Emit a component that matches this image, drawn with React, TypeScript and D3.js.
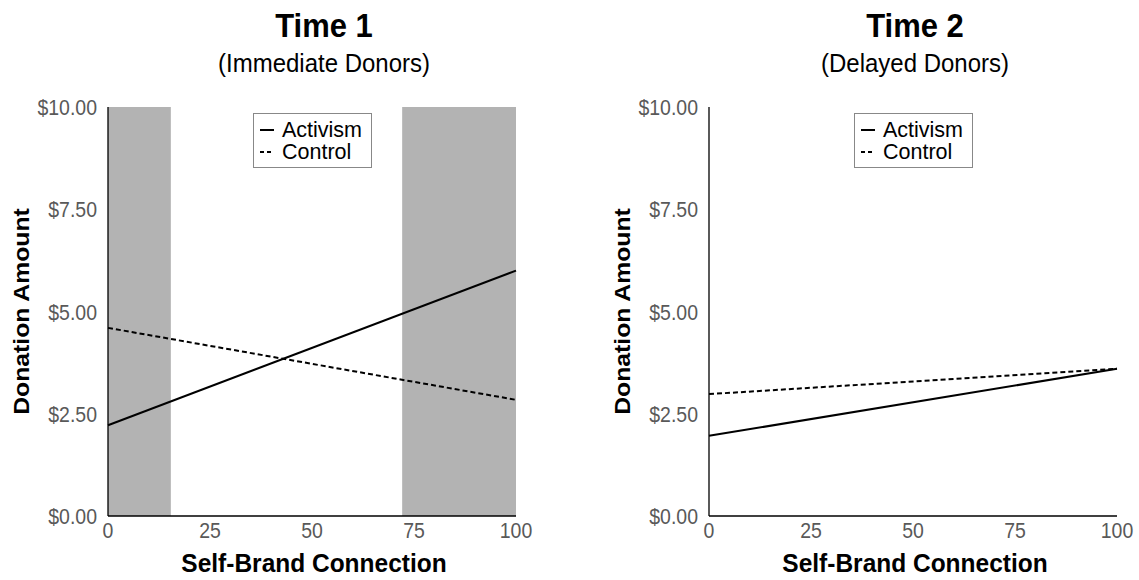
import React from "react";
import * as d3 from "d3";

const panelTitles = ["Time 1", "Time 2"];
const panelSubtitles = ["(Immediate Donors)", "(Delayed Donors)"];
const xTicks = [0, 25, 50, 75, 100];
const yTicks = [0, 2.5, 5, 7.5, 10];
const seriesNames = ["Activism", "Control"];
// donation at self-brand connection 0 and 100, per panel
const activismT1 = [2.22, 6.0];
const controlT1 = [4.6, 2.84];
const activismT2 = [1.96, 3.6];
const controlT2 = [2.98, 3.6];
// regions of significance along the x axis (time 1 only)
const shadedT1: [number, number][] = [[0, 15.4], [72.1, 100]];
const shadedT2: [number, number][] = [];

const W = 1139;
const H = 580;
const FONT = "Liberation Sans, Arial, sans-serif";
const SY = 1.1; // glyphs are slightly taller than wide

type TProps = {
  x: number;
  y: number;
  size: number;
  anchor?: string;
  bold?: boolean;
  fill?: string;
  rotate?: boolean;
  sy?: number;
  children: React.ReactNode;
};

function T({ x, y, size, anchor = "start", bold = false, fill = "#000", rotate = false, sy = SY, children }: TProps) {
  const tf = rotate
    ? `translate(${x},${y}) rotate(-90) scale(${sy},1)`
    : `translate(${x},${y}) scale(1,${sy})`;
  return (
    <text
      transform={tf}
      textAnchor={anchor}
      fontFamily={FONT}
      fontWeight={bold ? "bold" : "normal"}
      fontSize={size}
      fill={fill}
    >
      {children}
    </text>
  );
}

type PanelProps = {
  left: number;
  title: string;
  subtitle: string;
  titleX: number;
  activism: number[];
  control: number[];
  shaded: [number, number][];
  legendX: number;
};

function Panel({ left, title, subtitle, titleX, activism, control, shaded, legendX }: PanelProps) {
  const top = 107;
  const bottom = 516;
  const width = 408;
  const x = d3.scaleLinear().domain([0, 100]).range([left, left + width]);
  const y = d3.scaleLinear().domain([0, 10]).range([bottom, top]);
  const line = d3
    .line<[number, number]>()
    .x((d) => x(d[0]))
    .y((d) => y(d[1]));
  const toPts = (v: number[]): [number, number][] => [
    [0, v[0]],
    [100, v[1]],
  ];
  const cx = left + width / 2;
  return (
    <g>
      <T x={titleX} y={37} size={31} anchor="middle" bold>
        {title}
      </T>
      <T x={titleX} y={72} size={24} anchor="middle">
        {subtitle}
      </T>
      {shaded.map(([a, b], i) => (
        <rect key={i} x={x(a)} y={top} width={x(b) - x(a)} height={bottom - top} fill="#b3b3b3" />
      ))}
      <path d={line(toPts(activism)) || ""} fill="none" stroke="#000" strokeWidth={2} />
      <path d={line(toPts(control)) || ""} fill="none" stroke="#000" strokeWidth={2} strokeDasharray="5,3" />
      <line x1={x(0)} x2={x(0)} y1={top} y2={bottom} stroke="#000" strokeWidth={1.3} />
      <line x1={x(0)} x2={x(100)} y1={bottom} y2={bottom} stroke="#000" strokeWidth={1.3} />
      {yTicks.map((t) => (
        <T key={t} x={x(0) - 11} y={y(t) + 8} size={19.5} anchor="end" fill="#595959">
          {d3.format("$.2f")(t)}
        </T>
      ))}
      {xTicks.map((t) => (
        <T key={t} x={x(t)} y={bottom + 22} size={19.5} anchor="middle" fill="#595959">
          {t}
        </T>
      ))}
      <T x={cx + 2} y={572} size={24.5} anchor="middle" bold sy={1.08}>
        Self-Brand Connection
      </T>
      <T x={left - 79} y={(top + bottom) / 2} size={22.5} anchor="middle" bold rotate>
        Donation Amount
      </T>
      <g transform={`translate(${legendX},113)`}>
        <rect x={0.5} y={0.5} width={118} height={54} fill="#fff" stroke="#888" strokeWidth={1} />
        <line x1={7} x2={21} y1={17} y2={17} stroke="#000" strokeWidth={2} />
        <line x1={7} x2={21} y1={39} y2={39} stroke="#000" strokeWidth={2} strokeDasharray="4,3" />
        <T x={29} y={24} size={21.5} sy={1}>
          {seriesNames[0]}
        </T>
        <T x={29} y={46} size={21.5} sy={1}>
          {seriesNames[1]}
        </T>
      </g>
    </g>
  );
}

export default function App() {
  return (
    <svg width={W} height={H} style={{ position: "absolute", left: 0, top: 0, background: "#fff" }}>
      <rect width={W} height={H} fill="#fff" />
      <Panel
        left={108}
        title={panelTitles[0]}
        subtitle={panelSubtitles[0]}
        titleX={324}
        activism={activismT1}
        control={controlT1}
        shaded={shadedT1}
        legendX={253}
      />
      <Panel
        left={709}
        title={panelTitles[1]}
        subtitle={panelSubtitles[1]}
        titleX={915}
        activism={activismT2}
        control={controlT2}
        shaded={shadedT2}
        legendX={854}
      />
    </svg>
  );
}
